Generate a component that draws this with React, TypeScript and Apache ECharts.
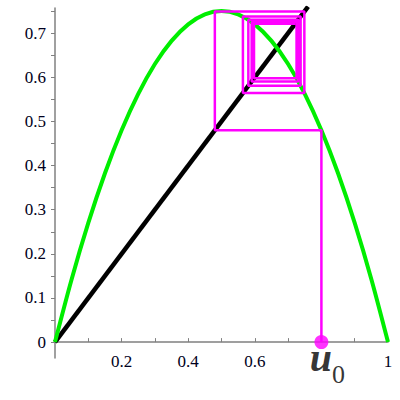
import React, { useEffect, useRef } from "react";
import * as echarts from "echarts";

// Parabola f(x) (peak 0.75 at x = 0.5)
const curveX = [0, 0.05, 0.1, 0.15, 0.2, 0.25, 0.3, 0.35, 0.4, 0.45, 0.5, 0.55, 0.6, 0.65, 0.7, 0.75, 0.8, 0.85, 0.9, 0.95, 1];
const curveY = [0, 0.1425, 0.27, 0.3825, 0.48, 0.5625, 0.63, 0.6825, 0.72, 0.7425, 0.75, 0.7425, 0.72, 0.6825, 0.63, 0.5625, 0.48, 0.3825, 0.27, 0.1425, 0];

// Diagonal y = x
const diagX = [0, 0.76];
const diagY = [0, 0.76];

// Iterates of the cobweb, starting from u0
const u0 = 0.8;
const orbit = [0.8, 0.48, 0.7488, 0.5643, 0.7376, 0.5806, 0.7305, 0.5906, 0.7254, 0.5976, 0.7214];

const yLabelValues = [0, 0.1, 0.2, 0.3, 0.4, 0.5, 0.6, 0.7];
const yTickValues = [0, 0.05, 0.1, 0.15, 0.2, 0.25, 0.3, 0.35, 0.4, 0.45, 0.5, 0.55, 0.6, 0.65, 0.7, 0.75];
const xLabelValues = [0.2, 0.4, 0.6, 1];
const xTickValues = [0.1, 0.2, 0.3, 0.4, 0.5, 0.6, 0.7, 0.8, 0.9, 1];

export default function App() {
  const ref = useRef<HTMLDivElement>(null);
  useEffect(() => {
    if (!ref.current) return;
    const chart = echarts.init(ref.current, null, { renderer: "svg" });
    const curve = curveX.map((x, i) => [x, curveY[i]]);
    const diag = diagX.map((x, i) => [x, diagY[i]]);
    const cobweb: number[][] = [[u0, 0]];
    for (let i = 0; i < orbit.length - 1; i++) {
      cobweb.push([orbit[i], orbit[i + 1]]);
      cobweb.push([orbit[i + 1], orbit[i + 1]]);
    }
    const font = "Liberation Serif";
    const axisColor = "#808080";
    chart.setOption({
      animation: false,
      backgroundColor: "#ffffff",
      textStyle: { fontFamily: font },
      grid: { left: 55, right: 12, top: 8, bottom: 42, outerBoundsMode: "none", containLabel: false },
      xAxis: {
        type: "value",
        min: 0,
        max: 1,
        splitLine: { show: false },
        axisLine: { onZero: true, lineStyle: { color: axisColor, width: 1.5 } },
        axisTick: { inside: true, length: 4, customValues: xTickValues, lineStyle: { color: axisColor } },
        axisLabel: {
          customValues: xLabelValues,
          margin: -5,
          fontFamily: font,
          fontSize: 17,
          color: "#000020",
          formatter: (v: number) => String(v),
        },
      },
      yAxis: {
        type: "value",
        min: -0.036,
        max: 0.757,
        splitLine: { show: false },
        axisLine: { lineStyle: { color: axisColor, width: 1.5 } },
        axisTick: { length: 4, customValues: yTickValues, lineStyle: { color: axisColor } },
        axisLabel: {
          customValues: yLabelValues,
          margin: 9,
          fontFamily: font,
          fontSize: 17,
          color: "#000020",
        },
      },
      series: [
        {
          type: "line",
          data: diag,
          symbol: "none",
          lineStyle: { color: "#000000", width: 4.5 },
          z: 2,
        },
        {
          type: "line",
          data: curve,
          smooth: 0.3,
          symbol: "none",
          lineStyle: { color: "#00ee00", width: 4 },
          z: 3,
        },
        {
          type: "line",
          data: cobweb,
          symbol: "none",
          lineStyle: { color: "#ff00ff", width: 2.5 },
          z: 4,
        },
        {
          type: "scatter",
          data: [[u0, 0]],
          symbolSize: 14,
          itemStyle: { color: "#ff00ff" },
          z: 5,
          label: {
            show: true,
            position: "inside",
            offset: [6, 20],
            formatter: "{u|u}{s|0}",
            rich: {
              u: { fontFamily: font, fontSize: 40, fontStyle: "italic", fontWeight: "bold", color: "#000000", verticalAlign: "top" },
              s: { fontFamily: font, fontSize: 26, color: "#000000", verticalAlign: "top", padding: [24, 0, 0, 0] },
            },
          },
        },
      ],
    });
    return () => chart.dispose();
  }, []);
  return <div ref={ref} style={{ position: "fixed", left: 0, top: 0, width: 400, height: 400 }} />;
}
